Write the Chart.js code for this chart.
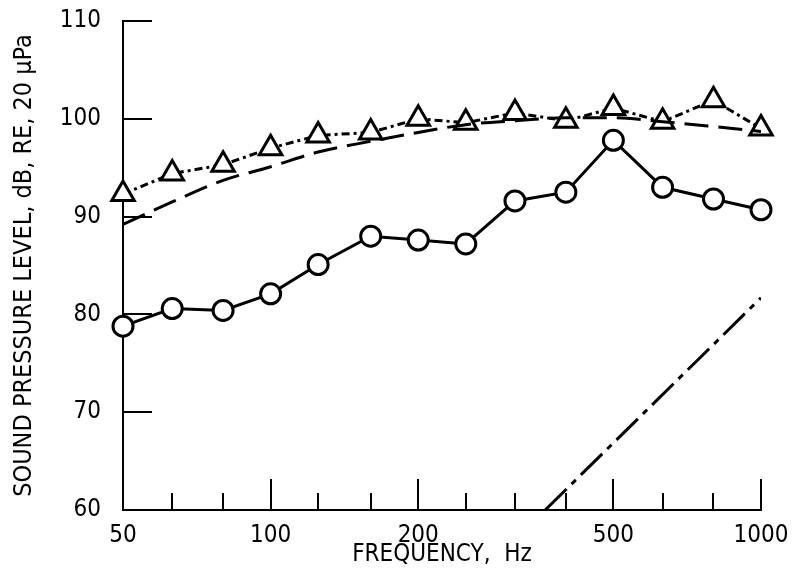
<!DOCTYPE html>
<html>
<head>
<meta charset="utf-8">
<script src="https://cdn.jsdelivr.net/npm/chart.js@4/dist/chart.umd.min.js"></script>
<style>
  html, body { margin: 0; padding: 0; background: #fff; }
  #wrap { width: 792px; height: 581px; }
</style>
</head>
<body>
<div id="wrap"><canvas id="c" width="792" height="581"></canvas></div>
<script>
// ---- data ----
const freqs = [50, 63, 80, 100, 125, 160, 200, 250, 315, 400, 500, 630, 800, 1000];
const circleLevels = [78.8, 80.6, 80.4, 82.1, 85.1, 88.0, 87.6, 87.2, 91.6, 92.5, 97.8, 93.0, 91.8, 90.7];
const triangleLevels = [92.3, 94.4, 95.3, 97.0, 98.3, 98.6, 100.0, 99.6, 100.6, 99.8, 101.1, 99.7, 101.9, 99.0];
const dashedCurveLevels = [89.2, 91.5, 93.7, 95.1, 96.6, 97.7, 98.6, 99.4, 99.8, 100.1, 100.1, 99.7, 99.2, 98.7];
const dashDotFreqs = [363, 1000];
const dashDotLevels = [60, 81.7];
const xTickLabels = [50, 100, 200, 500, 1000];
const xMajorTicks = [100, 200, 500, 1000];
const xMinorTicks = [63, 80, 125, 160, 250, 315, 400, 630, 800];
const yTickValues = [70, 80, 90, 100, 110];

const FONT = "'Liberation Sans Narrow', 'DejaVu Sans Condensed', 'Noto Sans', sans-serif";

const pts = (xs, ys) => xs.map((x, i) => ({ x: x, y: ys[i] }));

const inwardTicks = {
  id: 'inwardTicks',
  beforeDatasetsDraw(chart) {
    const ctx = chart.ctx;
    const xs = chart.scales.x, ys = chart.scales.y;
    const bottom = chart.chartArea.bottom, left = chart.chartArea.left;
    ctx.save();
    ctx.strokeStyle = '#000';
    ctx.lineWidth = 2;
    ctx.beginPath();
    xMajorTicks.forEach(v => {
      const px = Math.round(xs.getPixelForValue(v));
      ctx.moveTo(px, bottom); ctx.lineTo(px, bottom - 31);
    });
    xMinorTicks.forEach(v => {
      const px = Math.round(xs.getPixelForValue(v));
      ctx.moveTo(px, bottom); ctx.lineTo(px, bottom - 17);
    });
    yTickValues.forEach(v => {
      const py = Math.round(ys.getPixelForValue(v));
      ctx.moveTo(left, py); ctx.lineTo(left + 29, py);
    });
    ctx.stroke();
    ctx.restore();
  }
};

new Chart(document.getElementById('c'), {
  type: 'line',
  data: {
    datasets: [
      {
        label: 'dash-dot',
        data: pts(dashDotFreqs, dashDotLevels),
        borderColor: '#000', borderWidth: 3, borderDash: [30, 7, 6, 7],
        pointRadius: 0, fill: false, tension: 0
      },
      {
        label: 'dashed curve',
        data: pts(freqs, dashedCurveLevels),
        borderColor: '#000', borderWidth: 3, borderDash: [24, 10],
        pointRadius: 0, fill: false, tension: 0.4, cubicInterpolationMode: 'monotone'
      },
      {
        label: 'triangles',
        data: pts(freqs, triangleLevels),
        borderColor: '#000', borderWidth: 3, borderDash: [8, 4, 3, 4],
        pointStyle: 'triangle', pointRadius: 13, pointBorderWidth: 3,
        pointBackgroundColor: '#fff', pointBorderColor: '#000',
        fill: false, tension: 0, clip: false
      },
      {
        label: 'circles',
        data: pts(freqs, circleLevels),
        borderColor: '#000', borderWidth: 3,
        pointStyle: 'circle', pointRadius: 10, pointBorderWidth: 3,
        pointBackgroundColor: '#fff', pointBorderColor: '#000',
        fill: false, tension: 0, clip: false
      }
    ]
  },
  options: {
    responsive: false,
    animation: false,
    events: [],
    layout: { padding: { top: 21, right: 31, bottom: 0, left: 0 } },
    plugins: { legend: { display: false }, tooltip: { enabled: false } },
    scales: {
      x: {
        type: 'logarithmic',
        min: 50, max: 1000,
        afterBuildTicks: s => { s.ticks = xTickLabels.map(v => ({ value: v })); },
        afterFit: s => { s.height = 71; s.paddingLeft = 0; s.paddingRight = 0; },
        grid: { display: false, drawTicks: false },
        border: { display: true, color: '#000', width: 2 },
        ticks: {
          color: '#000', padding: 11, maxRotation: 0, autoSkip: false,
          font: { family: FONT, size: 24 },
          callback: v => String(v)
        },
        title: {
          display: true, text: 'FREQUENCY,  Hz', color: '#000',
          font: { family: FONT, size: 24 },
          padding: { top: 0, bottom: 12 }
        }
      },
      y: {
        min: 60, max: 110,
        afterBuildTicks: s => { s.ticks = [60].concat(yTickValues).map(v => ({ value: v })); },
        afterFit: s => { s.width = 123; s.paddingTop = 0; s.paddingBottom = 0; },
        grid: { display: false, drawTicks: false },
        border: { display: true, color: '#000', width: 2 },
        ticks: {
          color: '#000', padding: 22,
          font: { family: FONT, size: 24 },
          callback: v => String(v)
        },
        title: {
          display: true, text: 'SOUND PRESSURE LEVEL, dB, RE, 20 μPa', color: '#000',
          font: { family: FONT, size: 25 },
          padding: { top: 9, bottom: 0 }
        }
      }
    }
  },
  plugins: [inwardTicks]
});
</script>
</body>
</html>
